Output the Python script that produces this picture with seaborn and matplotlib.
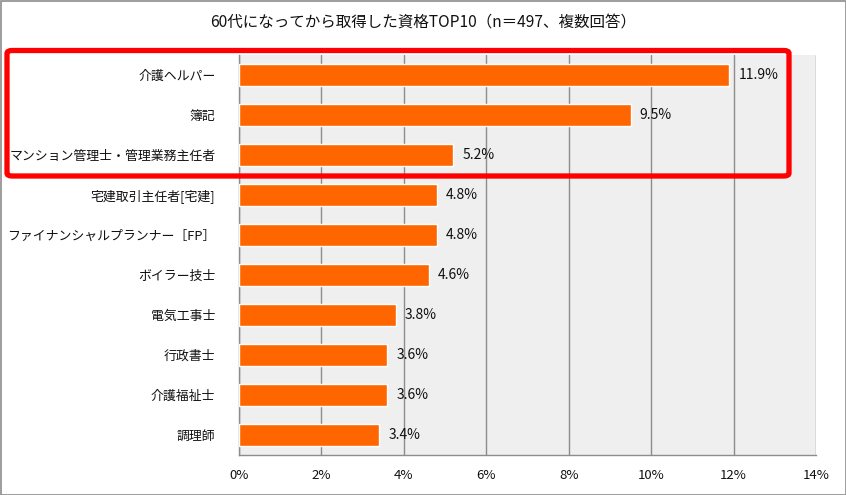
import numpy as np
import pandas as pd
import matplotlib
matplotlib.use("Agg")
import matplotlib.pyplot as plt
import matplotlib.ticker as mticker
from matplotlib.patches import FancyBboxPatch, Rectangle
import seaborn as sns

sns.set_style("white")
plt.rcParams['font.family'] = ['Noto Sans CJK JP', 'DejaVu Sans']

title = "60代になってから取得した資格TOP10（n＝497、複数回答）"
qualifications = ["介護ヘルパー", "簿記", "マンション管理士・管理業務主任者",
                  "宅建取引主任者[宅建]", "ファイナンシャルプランナー［FP］",
                  "ボイラー技士", "電気工事士", "行政書士", "介護福祉士", "調理師"]
rates = [11.9, 9.5, 5.2, 4.8, 4.8, 4.6, 3.8, 3.6, 3.6, 3.4]
x_ticks = [0, 2, 4, 6, 8, 10, 12, 14]

df = pd.DataFrame({"資格": qualifications, "割合": rates})

fig = plt.figure(figsize=(8.46, 4.95), dpi=100)
ax = fig.add_axes([239/846, 1 - 455/495, (816 - 239)/846, 400/495])
ax.set_facecolor("#EFEFEF")

sns.barplot(data=df, x="割合", y="資格", color="#FF6600", saturation=1,
            width=0.53, ax=ax, zorder=3)

ax.set_xlim(0, 14)
ax.set_ylim(len(qualifications) - 0.5, -0.5)
ax.set_xticks(x_ticks)
ax.xaxis.set_major_formatter(mticker.FuncFormatter(lambda v, p: f"{v:.0f}%"))
ax.grid(axis="x", color="#8C8C8C", linewidth=1, zorder=0)
ax.set_axisbelow(True)
ax.set_xlabel("")
ax.set_ylabel("")

# category boundary ticks on the y axis
ax.set_yticks(np.arange(len(qualifications)))
ax.set_yticklabels(qualifications)
ax.set_yticks(np.arange(len(qualifications) + 1) - 0.5, minor=True)
ax.tick_params(axis="y", which="major", length=0, pad=17, labelsize=9.3,
               labelcolor="#111111")
ax.tick_params(axis="y", which="minor", length=4, color="#8C8C8C", direction="out")
ax.tick_params(axis="x", which="major", length=4, color="#8C8C8C", direction="out",
               pad=6, labelsize=9.5, labelcolor="#111111")

for side in ["top", "right"]:
    ax.spines[side].set_visible(False)
for side in ["left", "bottom"]:
    ax.spines[side].set_color("#8C8C8C")
    ax.spines[side].set_linewidth(1)

for i, v in enumerate(rates):
    ax.text(v + 0.22, i, f"{v:.1f}%", va="center", ha="left", fontsize=10,
            color="#111111", zorder=5)

fig.text(423/846, 1 - 23/495, title, ha="center", va="center", fontsize=11.2,
         color="#111111")

# outer chart border
fig.patches.append(Rectangle((0.5/846, 0.5/495), 845/846, 494/495, transform=fig.transFigure,
                             fill=False, edgecolor="#8C8C8C", linewidth=1.2))
# red highlight box around the top 3
fig.patches.append(FancyBboxPatch((7/846, 1 - 176/495), (789 - 7)/846, (176 - 50.5)/495,
                                  boxstyle="round,pad=0,rounding_size=0.006",
                                  transform=fig.transFigure, fill=False,
                                  edgecolor="#FF0000", linewidth=3.8, zorder=10))

fig.savefig("out.png", dpi=100)
